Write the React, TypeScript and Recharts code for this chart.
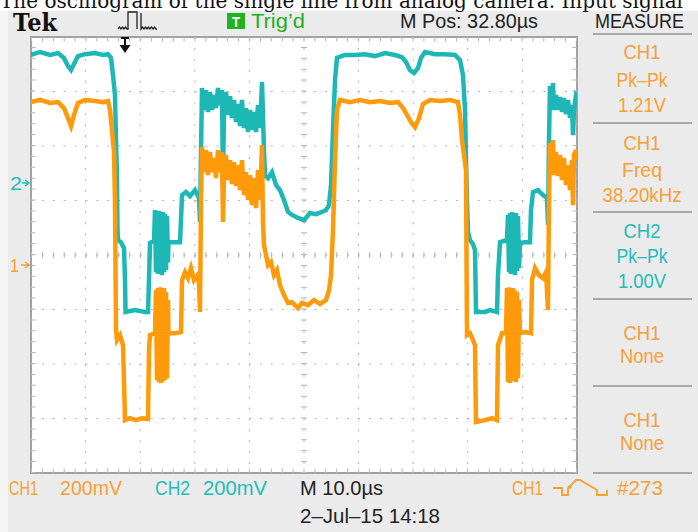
import React from 'react'
import { LineChart, Line, XAxis, YAxis, CartesianGrid, ReferenceLine, ReferenceArea } from 'recharts'

// CH1 (orange): time in µs from the left edge of the screen, level in mV above the CH1 ground marker
const ch1Time = [
  0, 1.65, 3.48, 4.95, 6.04, 6.78, 7.33, 7.88, 8.61, 9.89, 11.72, 13.19, 14.1, 14.47, 14.84, 15.2, 15.38, 15.57, 15.75, 16.3,
  16.85, 17.03, 17.22, 18.13, 19.23, 20.33, 21.43, 21.61, 21.79, 22.71,
  22.89, 23.08, 23.26, 23.44, 23.63, 23.81, 23.99, 24.18, 24.36, 24.54, 24.73, 24.91, 25.09, 25.18,
  26.37, 27.47, 27.66, 28.21, 28.75, 29.3, 29.85, 30.4, 30.77, 30.95, 31.14,
  31.32, 31.68, 32.05, 32.42, 32.78, 33.15, 33.52, 33.88, 34.25, 34.62, 34.98, 35.16, 35.35, 35.71, 36.08, 36.45, 36.81,
  37.18, 37.55, 37.91, 38.28, 38.64, 39.01, 39.38, 39.74, 40.11, 40.48, 40.84, 41.21, 41.58, 41.94, 42.31, 42.49,
  42.67, 43.04, 43.41, 43.96, 44.51,
  45.05, 45.6, 46.34, 47.07, 47.8, 48.9, 49.63, 50.73, 51.83, 52.93, 54.03, 54.58, 54.95, 55.31, 55.68, 56.04, 56.59, 58.42, 60.26, 62.09,
  63.92, 65.75, 67.22, 68.13, 68.86, 69.6, 70.33, 71.06, 71.79, 73.08, 74.91, 76.74, 78.21, 78.57, 78.94, 79.3, 79.67, 79.85, 80.4, 80.95,
  81.32, 81.5, 83.15, 84.43, 85.35, 85.53, 86.26, 86.99,
  87.18, 87.36, 87.55, 87.73, 87.91, 88.1, 88.28, 88.46, 88.64, 88.83, 89.01, 89.19, 89.38, 89.56,
  90.48, 91.58, 91.76, 92.31, 93.04, 93.77, 94.32, 94.69,
  94.87, 95.05, 95.42, 95.6, 95.79, 96.15, 96.52, 96.89, 97.25, 97.62, 97.99, 98.35, 98.72, 99.08, 99.27, 99.45, 99.82, 100,
]
const ch1Mv = [
  598, 606, 595, 598, 576, 539, 510, 551, 595, 606, 602, 598, 602, 569, 495, 415, 239, -239, -275, -257,
  -294, -422, -569, -562, -569, -562, -565, -312, -257, -250,
  -92, -422, -84, -429, -81, -433, -88, -426, -84, -422, -99, -415, -128, -250,
  -250, -246, -55, -26, -48, -11, -55, -40, -66, -172, 239,
  433, 341, 422, 330, 415, 341, 393, 319, 422, 341, 415, 158, 327, 404, 312, 385, 297,
  378, 290, 367, 275, 385, 257, 341, 239, 330, 220, 319, 209, 349, 239, 440, 158,
  73, 37, 0, 11, -37,
  -18, -73, -110, -139, -136, -158, -139, -147, -128, -143, -128, -92, -37, 128, 385, 569, 606, 598, 606, 598,
  602, 595, 598, 576, 551, 525, 506, 539, 591, 606, 602, 606, 598, 551, 459, 404, 349, -257, -250, -275,
  -294, -576, -569, -562, -569, -294, -250, -250,
  -84, -429, -81, -433, -88, -426, -84, -422, -92, -429, -99, -415, -128, -250,
  -246, -250, -55, -11, -37, -48, -26, -165,
  239, 448, 341, 459, 330, 415, 327, 404, 312, 393, 294, 367, 275, 385, 220, 404, 422, 385,
]

// CH2 (cyan): time in µs, level in mV above the CH2 ground marker
const ch2Time = [
  0, 1.65, 3.48, 4.95, 6.04, 6.78, 7.33, 7.88, 8.61, 9.89, 11.72, 13.19, 14.1, 14.65, 15.02, 15.38, 15.57, 15.75, 15.84, 15.93,
  16.48, 17.03, 17.22, 17.31, 19.05, 20.88, 21.43, 21.61, 21.79, 22.53,
  22.71, 22.89, 23.08, 23.26, 23.44, 23.63, 23.81, 23.99, 24.18, 24.36, 24.54, 24.73, 24.91, 25.09, 25.18,
  26.37, 27.29, 27.47, 27.66, 28.39, 29.12, 30.04, 30.77, 30.95, 31.14,
  31.32, 31.68, 32.05, 32.42, 32.78, 33.15, 33.52, 33.88, 34.25, 34.62, 34.98, 35.16, 35.35, 35.71, 36.08, 36.45,
  36.81, 37.18, 37.55, 37.91, 38.28, 38.64, 39.01, 39.38, 39.74, 40.11, 40.48, 40.84, 41.21, 41.58, 41.94, 42.31,
  42.67, 42.86, 43.41, 44.14, 44.87, 45.6, 46.34, 47.07, 47.8, 48.9,
  50, 51.1, 52.2, 53.3, 54.03, 54.58, 54.95, 55.31, 55.68, 56.04, 57.51, 59.34, 61.17, 63, 64.84, 66.67, 67.95, 68.68, 69.41, 70.15,
  70.88, 71.43, 72.16, 73.99, 75.82, 77.66, 78.57, 79.12, 79.49, 79.67, 79.85, 80.04, 80.4, 80.95, 81.32, 81.5, 83.15, 84.07, 85.35, 85.53,
  85.9, 87.18,
  87.36, 87.55, 87.73, 87.91, 88.1, 88.28, 88.46, 88.64, 88.83, 89.01, 89.19, 89.38, 89.56,
  90.48, 91.39, 91.58, 91.94, 92.86, 93.77, 94.51, 94.69,
  94.87, 95.05, 95.42, 95.6, 95.79, 96.15, 96.52, 96.89, 97.25, 97.62, 97.99, 98.35, 98.72, 99.08, 99.27, 99.45, 99.82, 100,
]
const ch2Mv = [
  470, 481, 470, 477, 459, 429, 415, 437, 466, 473, 477, 470, 473, 459, 396, 323, 158, 11, -172, -209,
  -217, -239, -356, -473, -466, -473, -473, -356, -220, -213,
  -99, -327, -106, -334, -103, -330, -110, -338, -106, -327, -114, -320, -121, -291, -217,
  -217, -217, -136, -44, -33, -48, -26, -55, -143, 121,
  349, 268, 341, 261, 334, 268, 323, 275, 349, 286, 341, -7, 268, 334, 250, 319,
  239, 305, 224, 290, 209, 305, 202, 275, 187, 268, 195, 261, 187, 286, 202, 371,
  121, 29, 18, 40, -7, -26, -62, -106, -117, -128,
  -136, -110, -114, -106, -99, -81, -7, 195, 378, 459, 470, 470, 473, 466, 477, 470, 462, 444, 415, 404,
  422, 459, 481, 473, 473, 470, 451, 396, 268, 84, -62, -180, -209, -224, -246, -473, -473, -466, -473, -338,
  -217, -209,
  -117, -327, -110, -334, -106, -330, -114, -338, -110, -323, -121, -312, -220,
  -217, -217, -99, -33, -26, -44, -55, -154,
  158, 356, 275, 367, 268, 323, 268, 316, 261, 312, 253, 305, 239, 286, 176, 268, 323, 319,
]

const timeTicks = [0, 10, 20, 30, 40, 50, 60, 70, 80, 90, 100]
const divTicks = [-4, -3, -2, -1, 0, 1, 2, 3, 4]

const measures = [
  { ch: 'CH1', what: 'Pk\u2013Pk', val: '1.21V', color: '#f7a035' },
  { ch: 'CH1', what: 'Freq', val: '38.20kHz', color: '#f7a035' },
  { ch: 'CH2', what: 'Pk\u2013Pk', val: '1.00V', color: '#22bcbc' },
  { ch: 'CH1', what: 'None', val: '', color: '#f7a035' },
  { ch: 'CH1', what: 'None', val: '', color: '#f7a035' },
]

const ORANGE = '#ff9a0a'
const CYAN = '#1db8b6'
const GRID = '#b6b6b6'
const SANS = '"Liberation Sans Narrow", "Liberation Sans", Arial, sans-serif'

const ch1Data = ch1Time.map((t, i) => ({ t, v: ch1Mv[i] }))
const ch2Data = ch2Time.map((t, i) => ({ t, v: ch2Mv[i] }))

const T = (p: { x: number; y: number; w: number; size: number; fill: string; children: string; anchor?: string; family?: string; weight?: string }) => (
  <text x={p.x} y={p.y} fontSize={p.size} fill={p.fill} fontFamily={p.family || SANS} fontWeight={p.weight || 'normal'}
    textLength={p.w} lengthAdjust="spacingAndGlyphs" textAnchor={p.anchor || 'start'}>{p.children}</text>
)

const App: React.FC = () => {
  const tick = { strokeDasharray: '1 9.9', stroke: GRID }
  return (
    <div style={{ position: 'absolute', left: 0, top: 0, width: 698, height: 532, background: '#ebebeb', overflow: 'hidden' }}>
      <div style={{ position: 'absolute', left: 0, top: 0 }}>
        <LineChart width={698} height={532} margin={{ top: 37, right: 121, bottom: 59, left: 31 }}>
          <XAxis type="number" dataKey="t" domain={[0, 100]} ticks={timeTicks} hide allowDataOverflow />
          <YAxis type="number" domain={[-4, 4]} ticks={divTicks} hide allowDataOverflow />
          <YAxis yAxisId="ch1" type="number" domain={[-763, 837]} hide allowDataOverflow />
          <YAxis yAxisId="ch2" type="number" domain={[-1064, 536]} hide allowDataOverflow />
          <CartesianGrid stroke={GRID} strokeDasharray="2 8.9" fill="#ffffff" />
          <ReferenceLine y={0} strokeWidth={6} {...tick} />
          <ReferenceLine x={50} strokeWidth={6} {...tick} />
          <ReferenceLine y={4} strokeWidth={9} ifOverflow="hidden" {...tick} />
          <ReferenceLine y={-4} strokeWidth={9} ifOverflow="hidden" {...tick} />
          <ReferenceLine x={0} strokeWidth={9} ifOverflow="hidden" {...tick} />
          <ReferenceLine x={100} strokeWidth={9} ifOverflow="hidden" {...tick} />
          <ReferenceArea x1={0} x2={100} y1={-4} y2={4} fill="none" stroke="#a2a2a2" strokeWidth={2} />
          <Line data={ch2Data} dataKey="v" yAxisId="ch2" type="linear" stroke={CYAN} strokeWidth={4.5} dot={false} isAnimationActive={false} />
          <Line data={ch1Data} dataKey="v" yAxisId="ch1" type="linear" stroke={ORANGE} strokeWidth={4.5} dot={false} isAnimationActive={false} />
        </LineChart>
      </div>
      <svg width={698} height={532} style={{ position: 'absolute', left: 0, top: 0, pointerEvents: 'none' }}>
        <rect x={0} y={0} width={698} height={11} fill="#ffffff" />
        <rect x={0} y={11} width={8} height={521} fill="#f5f5f5" />
        <T x={0} y={8} w={683} size={20} fill="#111" family='"DejaVu Serif", serif'>The oscillogram of the single line from analog camera. Input signal</T>

        {/* header */}
        <T x={13} y={31} w={44} size={24} fill="#111" family='"DejaVu Serif", serif' weight="bold">Tek</T>
        <path d="M118,29 l1.5,-2 l1.5,2 l1.5,-2 l1.5,2 l1.5,-2 l1.5,2 H128 V12 H137 V29 M141,13 V29 l1.5,-2 l1.5,2 l1.5,-2 l1.5,2 l1.5,-2 l1.5,2 l1.5,-2 l1.5,2 l1.5,-2 l1.5,2 H157"
          fill="none" stroke="#222" strokeWidth={1.3} />
        <rect x={227} y={13} width={18} height={16} fill="#1fb31f" />
        <T x={236} y={27} w={8} size={15} fill="#fff" anchor="middle" weight="bold">T</T>
        <T x={251} y={27.5} w={54} size={20} fill="#22b022">Trig’d</T>
        <T x={400} y={27.5} w={138} size={20} fill="#222">M Pos: 32.80µs</T>
        <T x={595} y={27.5} w={89} size={20} fill="#222">MEASURE</T>

        {/* trigger position arrow */}
        <path d="M121,38 H129 M125,38 V51" stroke="#111" strokeWidth={2} />
        <path d="M119.5,45 L130.5,45 L125,53 Z" fill="#111" />

        {/* ground markers */}
        <T x={10} y={190} w={12} size={19} fill="#22bcbc">2</T>
        <path d="M22,183 H28 M25,180 L29,183 L25,186" stroke="#22bcbc" strokeWidth={1.5} fill="none" />
        <T x={10} y={272} w={9} size={19} fill="#f7a035">1</T>
        <path d="M21,265 H28 M25,262 L29,265 L25,268" stroke="#f7a035" strokeWidth={1.5} fill="none" />

        {/* measure panel */}
        {[34, 123, 212, 299, 386, 473].map((y) => (
          <line key={y} x1={593} x2={692} y1={y} y2={y} stroke="#a8a8a8" strokeWidth={2} />
        ))}
        {measures.map((m, i) => {
          const top = [59, 150, 238, 340, 427][i]
          const gap = m.val ? [28, 27, 25][i] : 23
          return (
            <g key={i}>
              <T x={642} y={top} w={37} size={20} fill={m.color} anchor="middle">{m.ch}</T>
              <T x={642} y={top + gap} w={m.what === 'Freq' ? 40 : m.what === 'None' ? 44 : 51} size={20} fill={m.color} anchor="middle">{m.what}</T>
              {m.val && <T x={642} y={top + gap + 25} w={m.val.length > 6 ? 79 : 48} size={20} fill={m.color} anchor="middle">{m.val}</T>}
            </g>
          )
        })}

        {/* bottom status */}
        <T x={9} y={495} w={29} size={21} fill="#f7a035">CH1</T>
        <T x={60} y={495} w={62} size={21} fill="#f7a035">200mV</T>
        <T x={155} y={495} w={35} size={21} fill="#22bcbc">CH2</T>
        <T x={203} y={495} w={64} size={21} fill="#22bcbc">200mV</T>
        <T x={300} y={495} w={83} size={21} fill="#222">M 10.0µs</T>
        <T x={512} y={495} w={31} size={21} fill="#f7a035">CH1</T>
        <path d="M553,488 H562 V495 H568 V488 L576,480 H580 L597,490 V495 H607 V490" fill="none" stroke="#f7a035" strokeWidth={1.8} />
        <circle cx={570} cy={487} r={1.8} fill="#f7a035" />
        <T x={617} y={495} w={46} size={21} fill="#f7a035">#273</T>
        <T x={300} y={523} w={140} size={21} fill="#222">2–Jul–15 14:18</T>
      </svg>
    </div>
  )
}

export default App
